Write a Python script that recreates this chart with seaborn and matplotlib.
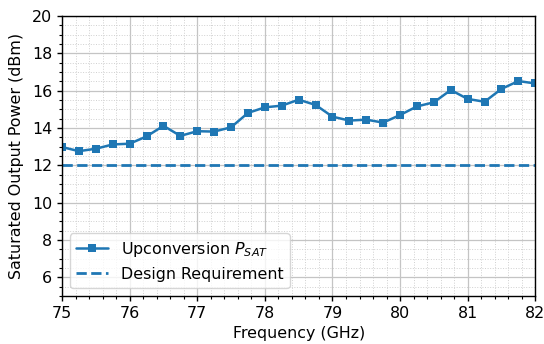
import numpy as np
import pandas as pd
import matplotlib
matplotlib.use("Agg")
import matplotlib.pyplot as plt
import seaborn as sns
from matplotlib.ticker import MultipleLocator

freq = [75.0, 75.25, 75.5, 75.75, 76.0, 76.25, 76.5, 76.75, 77.0, 77.25, 77.5, 77.75,
        78.0, 78.25, 78.5, 78.75, 79.0, 79.25, 79.5, 79.75, 80.0, 80.25, 80.5, 80.75,
        81.0, 81.25, 81.5, 81.75, 82.0]
psat = [12.98, 12.76, 12.89, 13.12, 13.16, 13.55, 14.12, 13.58, 13.83, 13.81, 14.04, 14.81,
        15.11, 15.2, 15.52, 15.24, 14.61, 14.4, 14.45, 14.29, 14.7, 15.16, 15.38, 16.04,
        15.56, 15.41, 16.1, 16.52, 16.39]
req_freq = [75.0, 82.0]
req_val = [12.0, 12.0]

sns.set_style("ticks")
plt.rcParams['font.family'] = ['DejaVu Sans']
plt.rcParams.update({"text.color": "black", "axes.labelcolor": "black",
                     "xtick.color": "black", "ytick.color": "black",
                     "axes.edgecolor": "black"})

df = pd.DataFrame({"f": freq, "p": psat})
dreq = pd.DataFrame({"f": req_freq, "p": req_val})

fs = 11.4
fig, ax = plt.subplots(figsize=(5.44, 3.44), dpi=100)
sns.lineplot(data=df, x="f", y="p", ax=ax, color="#1f77b4", marker="s", markersize=6,
             markeredgewidth=0, linewidth=1.8, label="Upconversion $P_{SAT}$")
sns.lineplot(data=dreq, x="f", y="p", ax=ax, color="#1f77b4", linestyle="--", linewidth=2,
             label="Design Requirement")

ax.set_xlim(75, 82)
ax.set_ylim(5, 20)
ax.xaxis.set_major_locator(MultipleLocator(1))
ax.xaxis.set_minor_locator(MultipleLocator(0.2))
ax.yaxis.set_major_locator(MultipleLocator(2))
ax.yaxis.set_minor_locator(MultipleLocator(0.5))
ax.grid(which="major", color="#c4c4c4", linewidth=0.9, linestyle="-")
ax.grid(which="minor", color="#d0d0d0", linewidth=0.7, linestyle=":")
ax.set_axisbelow(True)
ax.tick_params(axis="both", which="major", labelsize=fs, length=3.5, width=1, colors="black")
ax.tick_params(axis="both", which="minor", length=2, width=0.8, colors="black")
for s in ax.spines.values():
    s.set_visible(True)
    s.set_color("black")
    s.set_linewidth(1)
ax.set_xlabel("Frequency (GHz)", fontsize=fs)
ax.set_ylabel("Saturated Output Power (dBm)", fontsize=fs, labelpad=6)
leg = ax.legend(loc="lower left", fontsize=fs, frameon=True)
for t in leg.get_texts():
    t.set_color("black")
fig.subplots_adjust(left=0.114, right=0.984, top=0.953, bottom=0.14)
fig.savefig("out.png", dpi=100)
